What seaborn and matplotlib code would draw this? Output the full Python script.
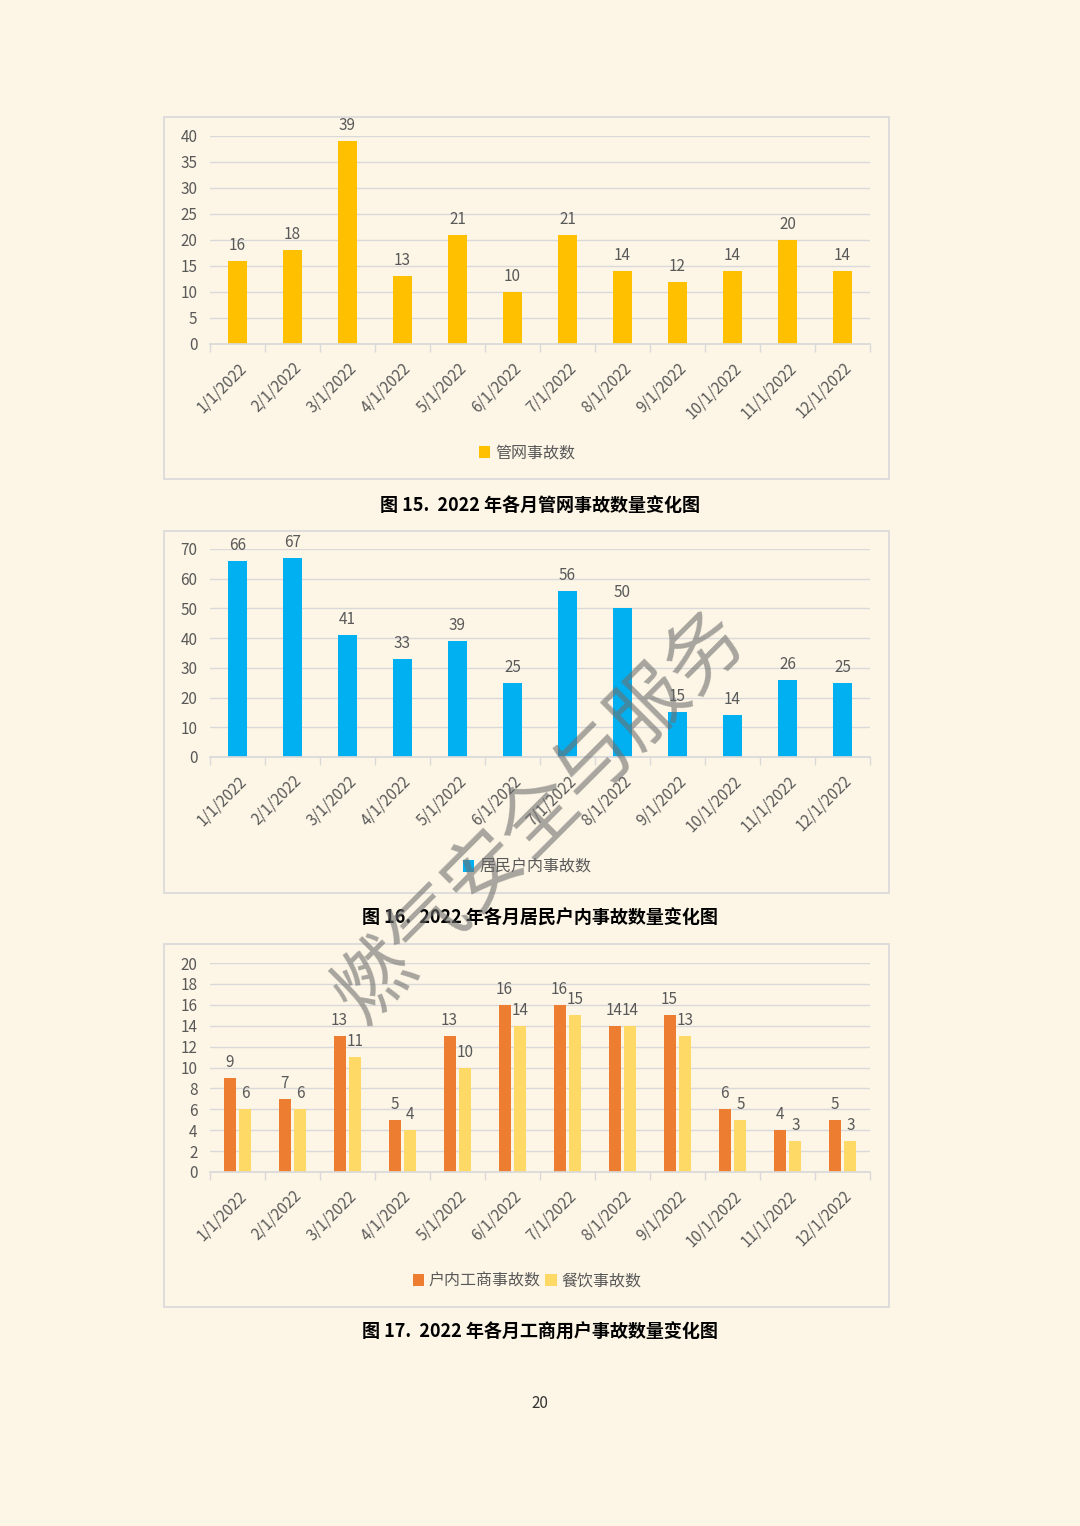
import numpy as np
import pandas as pd
import matplotlib
matplotlib.use('Agg')
import matplotlib.pyplot as plt
from matplotlib.patches import Rectangle
from matplotlib.ticker import MultipleLocator
import seaborn as sns

# 数据
months = ['1/1/2022', '2/1/2022', '3/1/2022', '4/1/2022', '5/1/2022', '6/1/2022',
          '7/1/2022', '8/1/2022', '9/1/2022', '10/1/2022', '11/1/2022', '12/1/2022']
pipe_counts = [16, 18, 39, 13, 21, 10, 21, 14, 12, 14, 20, 14]
resident_counts = [66, 67, 41, 33, 39, 25, 56, 50, 15, 14, 26, 25]
commercial_counts = [9, 7, 13, 5, 13, 16, 16, 14, 15, 6, 4, 5]
catering_counts = [6, 6, 11, 4, 10, 14, 15, 14, 13, 5, 3, 3]

bg = '#FDF6E6'
grid_c = '#D9D9D9'
text_c = '#595959'

sns.set_theme(style='white')
plt.rcParams['font.family'] = ['Noto Sans CJK SC', 'DejaVu Sans']
plt.rcParams['axes.unicode_minus'] = False

fig = plt.figure(figsize=(10.8, 15.26), dpi=100, facecolor=bg)

W, H = 1080, 1526


def px_rect(x0, y0, x1, y1):
    # 像素坐标 -> figure 比例坐标
    return [x0 / W, 1 - y1 / H, (x1 - x0) / W, (y1 - y0) / H]


def style_axis(ax, ymax, step):
    ax.set_facecolor(bg)
    ax.set_ylim(0, ymax)
    ax.set_xlim(-0.5, 11.5)
    ax.yaxis.set_major_locator(MultipleLocator(step))
    ax.grid(axis='y', color=grid_c, linewidth=1)
    ax.grid(axis='x', visible=False)
    ax.set_axisbelow(True)
    for s in ['top', 'right', 'left']:
        ax.spines[s].set_visible(False)
    ax.spines['bottom'].set_color(grid_c)
    ax.tick_params(axis='y', length=0, pad=9, labelsize=11, labelcolor=text_c)
    ax.tick_params(axis='x', which='major', length=0, pad=11, labelsize=11, labelcolor=text_c)
    ax.set_xticks(np.arange(-0.5, 12, 1), minor=True)
    ax.tick_params(axis='x', which='minor', length=6, color=grid_c, bottom=True)
    plt.setp(ax.get_xticklabels(), rotation=45, ha='right', rotation_mode='anchor')
    ax.set_xlabel('')
    ax.set_ylabel('')
    for c in ax.containers:
        ax.bar_label(c, padding=5, fontsize=11, color=text_c)


def add_box(y0, y1):
    x0, _, w, _ = px_rect(164, y0, 889, y1)
    r = Rectangle((x0, 1 - y1 / H), w, (y1 - y0) / H, transform=fig.transFigure,
                  fill=False, edgecolor=grid_c, linewidth=1.2)
    fig.patches.append(r)


def add_legend(ax, labels, colors, ypx):
    handles = [Rectangle((0, 0), 1, 1, facecolor=c, edgecolor='none') for c in colors]
    ax.legend(handles, labels, loc='center', bbox_to_anchor=(527 / W, 1 - ypx / H),
              bbox_transform=fig.transFigure, ncol=len(labels), frameon=False,
              handlelength=0.7, handleheight=0.7, handletextpad=0.3, columnspacing=0.3,
              fontsize=11.5, labelcolor=text_c)


# 图15 管网事故
add_box(117, 479)
ax1 = fig.add_axes(px_rect(210, 136, 870, 344))
df1 = pd.DataFrame({'month': months, 'count': pipe_counts})
sns.barplot(data=df1, x='month', y='count', order=months, color='#FFC000',
            saturation=1, width=0.33, linewidth=0, ax=ax1)
style_axis(ax1, 40, 5)
add_legend(ax1, ['管网事故数'], ['#FFC000'], 453)
fig.text(0.5, 1 - 505 / H, '图 15.  2022 年各月管网事故数量变化图', ha='center', va='center',
         fontsize=13, fontweight='bold', color='black')

# 图16 居民户内事故
add_box(531, 893)
ax2 = fig.add_axes(px_rect(210, 549, 870, 757))
df2 = pd.DataFrame({'month': months, 'count': resident_counts})
sns.barplot(data=df2, x='month', y='count', order=months, color='#00B0F0',
            saturation=1, width=0.33, linewidth=0, ax=ax2)
style_axis(ax2, 70, 10)
add_legend(ax2, ['居民户内事故数'], ['#00B0F0'], 867)
fig.text(0.5, 1 - 918 / H, '图 16.  2022 年各月居民户内事故数量变化图', ha='center', va='center',
         fontsize=13, fontweight='bold', color='black')

# 图17 工商用户事故
add_box(944, 1307)
ax3 = fig.add_axes(px_rect(210, 963, 870, 1172))
df3 = pd.DataFrame({
    'month': months * 2,
    'count': commercial_counts + catering_counts,
    'type': ['户内工商事故数'] * 12 + ['餐饮事故数'] * 12,
})
sns.barplot(data=df3, x='month', y='count', hue='type', order=months,
            palette=['#ED7D31', '#FFD966'], saturation=1, width=0.58, gap=0.25,
            linewidth=0, legend=False, ax=ax3)
style_axis(ax3, 20, 2)
add_legend(ax3, ['户内工商事故数', '餐饮事故数'], ['#ED7D31', '#FFD966'], 1281)
fig.text(0.5, 1 - 1332 / H, '图 17.  2022 年各月工商用户事故数量变化图', ha='center', va='center',
         fontsize=13, fontweight='bold', color='black')

# 页码
fig.text(0.5, 1 - 1403 / H, '20', ha='center', va='center', fontsize=11, color='#333333')

# 水印
fig.text(540 / W, 1 - 817 / H, '燃气安全与服务', rotation=45, ha='center', va='center',
         fontsize=56, fontweight='light', color='#6f6f6f', alpha=0.6)

fig.savefig('out.png', dpi=100, facecolor=bg)
